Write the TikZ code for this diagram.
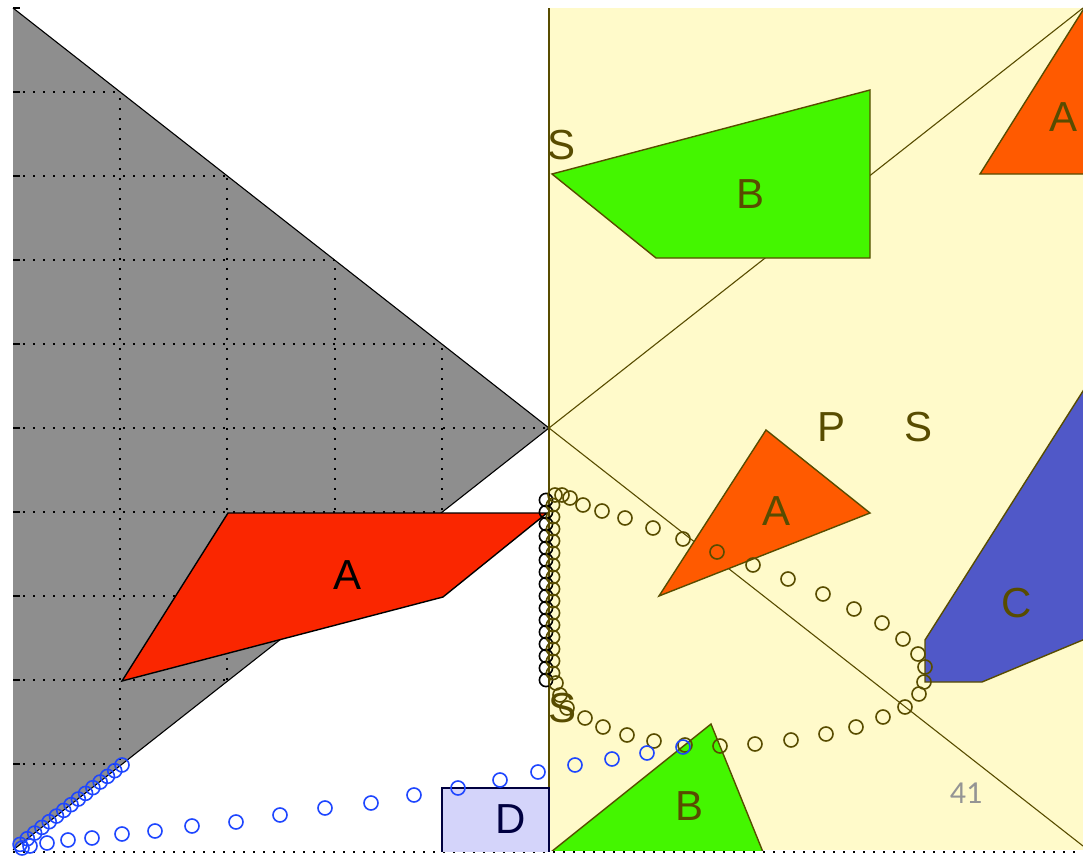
\documentclass[tikz,border=0pt]{standalone}
\usepackage{fontspec}
\setmainfont{Liberation Sans}
\newfontfamily\pagefont{Carlito}
\definecolor{pad}{RGB}{255,250,202}
\definecolor{olivedark}{RGB}{88,76,0}
\definecolor{greyhalf}{RGB}{142,142,142}
\definecolor{greenB}{RGB}{68,246,0}
\definecolor{orangeA}{RGB}{255,90,0}
\definecolor{redA}{RGB}{250,38,0}
\definecolor{blueC}{RGB}{80,88,200}
\definecolor{lavD}{RGB}{212,212,250}
\definecolor{navyD}{RGB}{0,0,64}
\definecolor{bluedot}{RGB}{30,70,255}

\begin{document}
\begin{tikzpicture}[x=0.5pt, y=-0.5pt,
        letter/.style={font=\fontsize{21}{21}\selectfont, text=olivedark, inner sep=0pt},
        piece/.style={draw=olivedark, line width=0.7pt},
        gridline/.style={black, line width=1pt, dash pattern=on 1pt off 4pt},
        ray/.style={olivedark, line width=0.55pt},
        trail/.style={draw=olivedark, line width=0.8pt},
        bluetrail/.style={draw=bluedot, line width=0.8pt}]
        \useasboundingbox (0,0) rectangle (1083,857);
        \coordinate (apex) at (549,428);

        % grey half with its grid
        \fill[greyhalf] (13,8) -- (apex) -- (13,850) -- cycle;
        \begin{scope}
            \clip (13,8) -- (apex) -- (13,850) -- cycle;
            \foreach \k in {1,...,9}
                \draw[gridline] (13,{8+84*\k}) -- (549,{8+84*\k});
            \foreach \k in {1,...,4}
                \draw[gridline] ({13+107.2*\k},8) -- ({13+107.2*\k},850);
        \end{scope}
        \draw[black, line width=0.55pt] (13,8) -- (apex) -- (13,850);
        \foreach \k in {0,...,9}
            \draw[black, line width=1.2pt] (13,{8+84*\k}) -- (20,{8+84*\k});
        \draw[gridline] (13,852) -- (1083,852);

        % yellow half
        \fill[pad] (549,8) rectangle (1083,850);
        \draw[ray] (apex) -- (1083,8);
        \draw[ray] (apex) -- (1083,846);
        \draw[olivedark, line width=0.8pt] (549,8) -- (549,852);

        \begin{scope}
            \clip (549,8) rectangle (1083,850);
            \draw[piece, fill=greenB] (552,174) -- (870,90) -- (870,258) -- (656,258) -- cycle;
            \draw[piece, fill=orangeA] (980,174) -- (1083,10) -- (1100,-20) -- (1100,174) -- cycle;
            \draw[piece, fill=orangeA] (659,596) -- (766,430) -- (870,513) -- cycle;
            \draw[piece, fill=blueC] (925,640) -- (925,682) -- (982,682) -- (1090,637) -- (1090,380) -- cycle;
            \draw[piece, fill=greenB] (551,852) -- (711,724) -- (763,852) -- cycle;
        \end{scope}

        \draw[black, line width=0.7pt, fill=redA] (228,513) -- (547,513) -- (443,597) -- (122,681) -- cycle;
        \draw[navyD, line width=0.7pt, fill=lavD] (442,852) -- (442,788) -- (549,788) -- (549,852);

        % labels
        \node[letter] (sTop) at (562,145) {S};
        \node[letter] (bTop) at (751,194) {B};
        \node[letter] (aCorner) at (1063,117) {A};
        \node[letter] (pMid) at (832,427) {P};
        \node[letter] (sMid) at (919,427) {S};
        \node[letter] (aMid) at (777,511) {A};
        \node[letter] (cRight) at (1017,603) {C};
        \node[letter] (sLow) at (563,708) {S};
        \node[letter] (bLow) at (690,806) {B};
        \node[letter, text=black] (aRed) at (348,575) {A};
        \node[letter, text=navyD] (dBox) at (511,819) {D};
        \node[font=\pagefont\fontsize{16}{16}\selectfont, text=black!42, inner sep=0pt] (pageNo) at (966,793) {41};

        % traces
        \foreach \y in {500,512,...,690}
            \draw[black, line width=0.8pt] (546,\y) circle[radius=3.3pt];
        \foreach \y in {505,517,...,680}
            \draw[trail] (553,\y) circle[radius=3.3pt];
        \foreach \p in {(555,495),(562,495),(570,498),(583,505),(602,511),(625,518),(653,528),
                (683,539),(717,552),(753,565),(788,579),(823,594),(854,609),(882,623),(903,639),
                (918,654),(925,667),(924,682),(919,694),(905,707),(883,717),(856,727),(826,734),
                (791,740),(755,744),(720,746),(685,745),(654,741),(627,735),(603,727),(585,718),
                (567,708),(560,695),(556,683)}
            \draw[trail] \p circle[radius=3.5pt];
        \foreach \t in {0,0.07,...,1}
            \draw[bluetrail] ({122-104*\t},{765+81*\t}) circle[radius=3.5pt];
        \foreach \p in {(22,848),(30,846),(47,843),(68,840),(92,838),(122,834),(155,831),(192,826),
                (236,822),(280,815),(325,808),(371,803),(414,795),(458,788),(500,780),(538,772),
                (575,765),(612,759),(647,753),(683,747)}
            \draw[bluetrail] \p circle[radius=3.5pt];
    \end{tikzpicture}
\end{document}
